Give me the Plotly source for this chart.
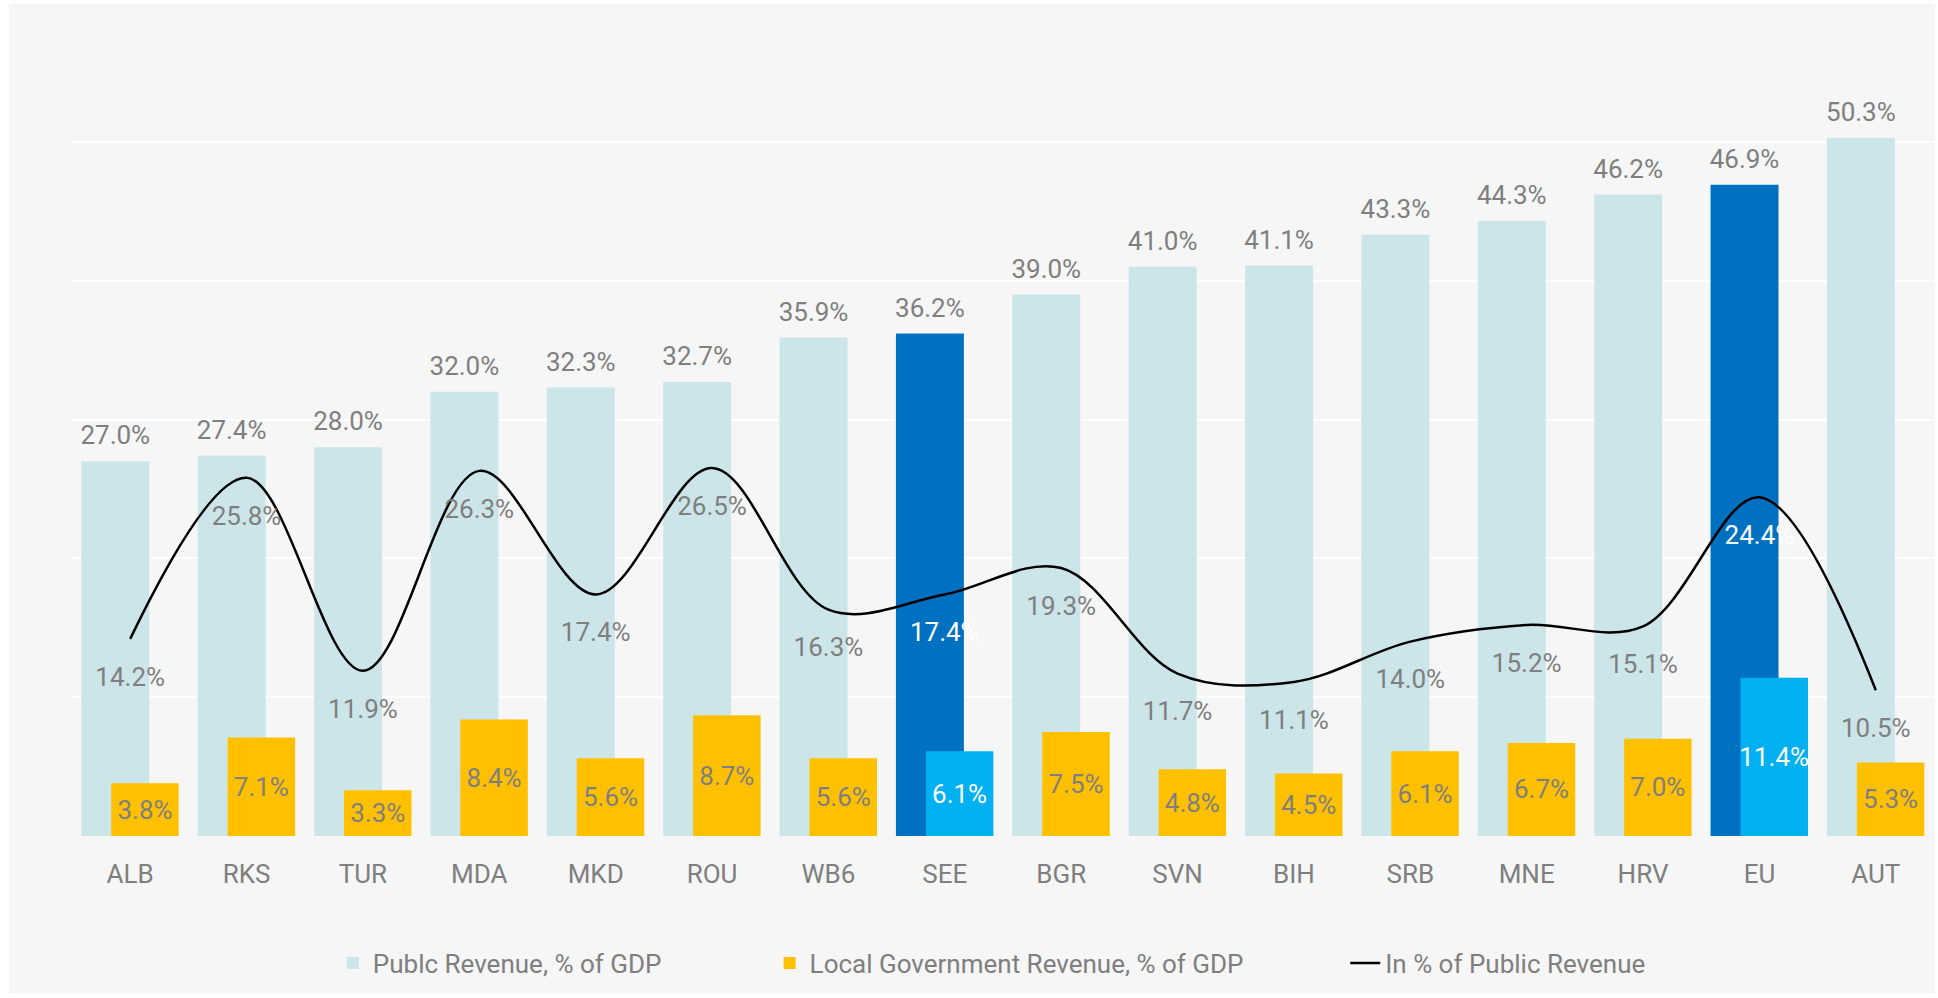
import plotly.graph_objects as go

categories = ["ALB", "RKS", "TUR", "MDA", "MKD", "ROU", "WB6", "SEE", "BGR", "SVN", "BIH", "SRB", "MNE", "HRV", "EU", "AUT"]
public_revenue = [27.0, 27.4, 28.0, 32.0, 32.3, 32.7, 35.9, 36.2, 39.0, 41.0, 41.1, 43.3, 44.3, 46.2, 46.9, 50.3]
local_revenue = [3.8, 7.1, 3.3, 8.4, 5.6, 8.7, 5.6, 6.1, 7.5, 4.8, 4.5, 6.1, 6.7, 7.0, 11.4, 5.3]
local_share = [14.2, 25.8, 11.9, 26.3, 17.4, 26.5, 16.3, 17.4, 19.3, 11.7, 11.1, 14.0, 15.2, 15.1, 24.4, 10.5]
highlight = ["SEE", "EU"]

GRAY = "#7f7f7f"
FONT = "Roboto"
FS = 26
NB = "\u00a0"

idx = list(range(len(categories)))
pub_colors = ["#0070c0" if c in highlight else "#cce5e9" for c in categories]
loc_colors = ["#00b0f0" if c in highlight else "#ffc000" for c in categories]
loc_text_colors = ["#ffffff" if c in highlight else GRAY for c in categories]
line_text_colors = ["#ffffff" if c in highlight else GRAY for c in categories]

PUB_OFF, PUB_W = -0.42, 0.584
LOC_OFF, LOC_W = -0.163, 0.58

fig = go.Figure()

fig.add_trace(go.Bar(
    x=idx, y=public_revenue, name="Publc Revenue, % of GDP" + NB * 16,
    offset=PUB_OFF, width=PUB_W,
    marker=dict(color=pub_colors, line=dict(width=0)),
    hoverinfo="skip",
))

fig.add_trace(go.Bar(
    x=idx, y=local_revenue, name="Local Government Revenue, % of GDP" + NB * 15,
    offset=LOC_OFF, width=LOC_W,
    marker=dict(color=loc_colors, line=dict(width=0)),
    text=[f"{v:.1f}%" for v in local_revenue],
    textposition="inside", insidetextanchor="middle", textangle=0,
    insidetextfont=dict(family=FONT, size=FS, color=loc_text_colors),
    hoverinfo="skip",
))

fig.add_trace(go.Scatter(
    x=idx, y=local_share, name="In % of Public Revenue",
    mode="lines", line=dict(color="black", width=2.5, shape="spline", smoothing=1.0),
    hoverinfo="skip",
))

# Public revenue labels (above bars)
fig.add_trace(go.Scatter(
    x=[i + PUB_OFF + PUB_W / 2 for i in idx], y=public_revenue,
    mode="markers+text", showlegend=False,
    marker=dict(size=15, color="rgba(0,0,0,0)"),
    text=[f"{v:.1f}%" for v in public_revenue], textposition="top center",
    textfont=dict(family=FONT, size=FS, color=GRAY),
    hoverinfo="skip", cliponaxis=False,
))

# Line labels (below points)
fig.add_trace(go.Scatter(
    x=idx, y=local_share,
    mode="markers+text", showlegend=False,
    marker=dict(size=42, color="rgba(0,0,0,0)"),
    text=[f"{v:.1f}%" for v in local_share], textposition="bottom center",
    textfont=dict(family=FONT, size=FS, color=line_text_colors),
    hoverinfo="skip", cliponaxis=False,
))

fig.update_layout(
    width=1938, height=998,
    margin=dict(l=72, r=4, t=3, b=162),
    paper_bgcolor="white", plot_bgcolor="rgba(0,0,0,0)",
    barmode="overlay",
    font=dict(family=FONT, size=FS, color=GRAY),
    uniformtext=dict(minsize=FS, mode="show"),
    showlegend=True,
    legend=dict(orientation="h", x=0.494, xanchor="center", y=-0.1525, yanchor="middle",
                font=dict(family=FONT, size=FS, color=GRAY), bgcolor="rgba(0,0,0,0)",
                traceorder="normal"),
    shapes=[dict(type="rect", xref="paper", yref="paper", x0=-0.0338, x1=1.0005, y0=-0.1885, y1=0.9988,
                 fillcolor="#f6f6f6", line=dict(width=0), layer="below")],
)

fig.update_xaxes(range=[-0.5, len(categories) - 0.5], tickmode="array", tickvals=idx, ticktext=categories,
                 showgrid=False, zeroline=False, showline=False, ticks="", ticklabelstandoff=20,
                 tickfont=dict(family=FONT, size=FS, color=GRAY))
fig.update_yaxes(range=[0, 60], tickmode="array", tickvals=[0, 10, 20, 30, 40, 50], showticklabels=False,
                 showgrid=True, gridcolor="white", gridwidth=2, zeroline=False, showline=False, ticks="")

fig.write_html("out.html")
